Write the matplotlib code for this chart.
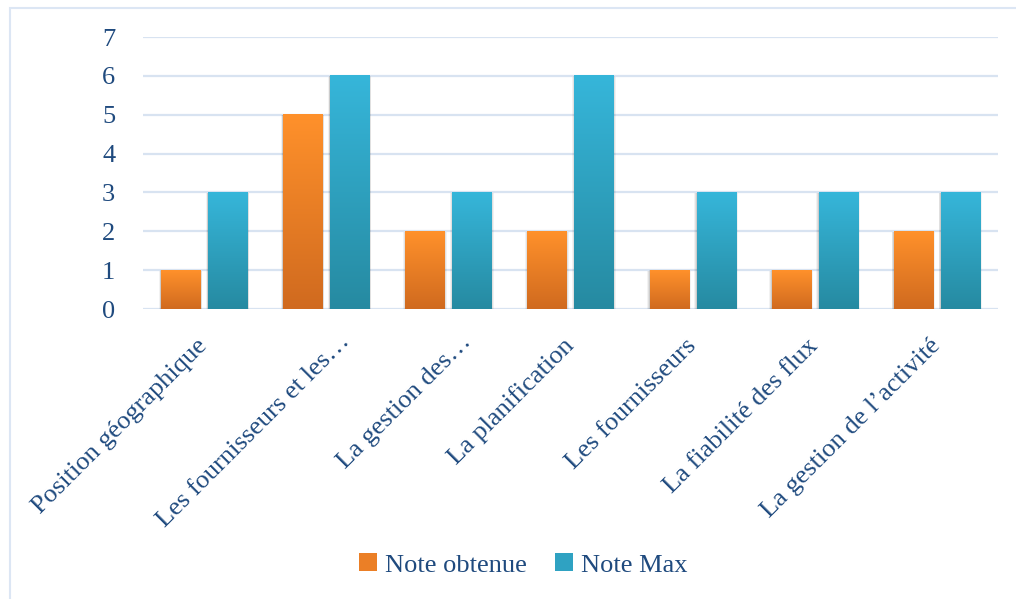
import matplotlib.pyplot as plt
import numpy as np
from matplotlib.patches import Rectangle, Patch
from matplotlib.colors import LinearSegmentedColormap
from matplotlib.transforms import ScaledTranslation

# Data
categories = ['Position géographique', 'Les fournisseurs et les…',
              'La gestion des…', 'La planification', 'Les fournisseurs',
              'La fiabilité des flux', 'La gestion de l’activité']
note_obtenue = [1, 5, 2, 2, 1, 1, 2]
note_max = [3, 6, 3, 6, 3, 3, 3]
series_names = ['Note obtenue', 'Note Max']

text_color = '#1F4A7E'
grid_color = '#D8E3F1'
orange_grad = LinearSegmentedColormap.from_list('og', ['#D06A1F', '#FF912B'])
blue_grad = LinearSegmentedColormap.from_list('bg', ['#268AA1', '#36B6DA'])

plt.rcParams['font.family'] = ['Liberation Serif', 'DejaVu Serif']

fig = plt.figure(figsize=(10.16, 5.99), dpi=100)
ax = fig.add_axes([0.1407, 0.4841, 0.8415, 0.4541])

# light frame around the chart area
fig.patches.append(Rectangle((10 / 1016, -0.1), 1.2, 1 - 8 / 599 + 0.1,
                             transform=fig.transFigure, fill=False,
                             edgecolor='#DCE6F4', linewidth=1.5, zorder=0))

x = np.arange(len(categories))
width = 0.32
gap = 0.065
grad = np.linspace(0, 1, 256).reshape(-1, 1)


def gradient_bar(xc, h, cmap):
    x0, x1 = xc - width / 2, xc + width / 2
    # soft shadow
    for k, a in zip([0.018, 0.012, 0.006], [0.05, 0.07, 0.09]):
        ax.add_patch(Rectangle((x0 - k, -0.03 - k * 2), width + 2 * k,
                               h + 0.03 + k, facecolor='black', alpha=a,
                               linewidth=0, zorder=2))
    ax.imshow(grad, extent=[x0, x1, 0, h], origin='lower', cmap=cmap,
              aspect='auto', zorder=3)


for i in range(len(categories)):
    gradient_bar(x[i] - (width + gap) / 2, note_obtenue[i], orange_grad)
    gradient_bar(x[i] + (width + gap) / 2, note_max[i], blue_grad)

ax.set_xlim(-0.5, len(categories) - 0.5)
ax.set_ylim(0, 7)
ax.set_yticks(range(0, 8))
ax.yaxis.grid(True, color=grid_color, linewidth=1.6, zorder=1)
ax.set_axisbelow(True)
for s in ax.spines.values():
    s.set_visible(False)

ax.set_xticks(x)
ax.set_xticklabels(categories, rotation=45, ha='right', va='center',
                   rotation_mode='anchor', fontsize=19, color=text_color)
ax.tick_params(axis='y', length=0, pad=20, labelsize=19, labelcolor=text_color)
ax.tick_params(axis='x', length=0, pad=24)
# truncated labels sit a bit further right
for lab in ax.get_xticklabels():
    if lab.get_text().endswith('…'):
        lab.set_transform(lab.get_transform() +
                          ScaledTranslation(0.2, 0.04, fig.dpi_scale_trans))

handles = [Patch(facecolor='#EB7F26'), Patch(facecolor='#2FA2C2')]
fig.legend(handles, series_names, loc='center',
           bbox_to_anchor=(0.515, 1 - 565 / 599), ncol=2, frameon=False,
           fontsize=19, handlelength=0.65, handleheight=0.65,
           handletextpad=0.3, columnspacing=1.1, labelcolor=text_color)

fig.savefig('out.png', dpi=100)
